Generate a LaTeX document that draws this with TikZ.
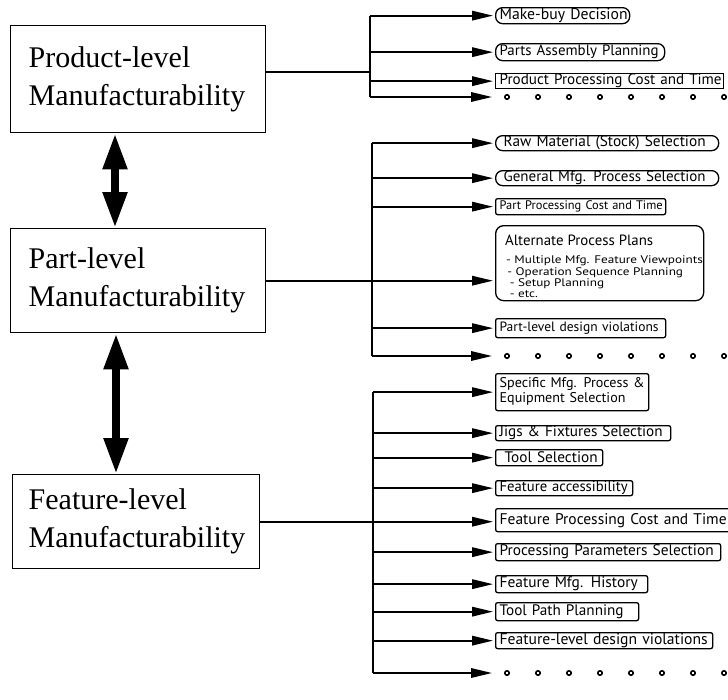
\documentclass[tikz,border=0pt]{standalone}
\usepackage{graphicx}
\usepackage{fontspec}
\setmainfont{Liberation Serif}
\newfontfamily\boxfont{PT Sans}
\usetikzlibrary{arrows.meta,calc}
\newcommand\fitw[2]{\resizebox{#1}{!}{#2}}
\begin{document}
\begin{tikzpicture}[x=1pt,y=-1pt,
  lvl/.style={draw, line width=1.4pt, rectangle, align=left, anchor=north west,
    font=\fontsize{30}{38}\selectfont, inner xsep=18pt, inner ysep=0pt},
  rbox/.style={draw, line width=1.3pt, anchor=north west, inner xsep=4pt, inner ysep=0pt,
    font=\boxfont\fontsize{13}{14}\selectfont, align=left},
  pill/.style={rounded corners=7pt},
  smr/.style={rounded corners=2pt},
  conn/.style={line width=1.8pt},
  arr/.style={conn, shorten >=2pt, -{Triangle[length=21pt,width=9.5pt]}},
  dbl/.style={line width=8pt, {Triangle[length=36pt,width=23pt]}-{Triangle[length=36pt,width=23pt]}},
  dot/.style={line width=1.6pt}
]
\useasboundingbox (0,0) rectangle (728,699);

% level boxes
\node[lvl, minimum width=255pt, minimum height=107pt, text width=219pt] (prod) at (10,25) {Product-level\\Manufacturability};
\node[lvl, minimum width=255pt, minimum height=104pt, text width=219pt] (part) at (10,228) {Part-level\\Manufacturability};
\node[lvl, minimum width=247pt, minimum height=94pt, inner xsep=16pt, text width=215pt] (feat) at (12,474) {Feature-level\\Manufacturability};

\coordinate (a1) at (115,0);
\coordinate (a2) at (116,0);
\draw[dbl] (prod.south -| a1) -- (part.north -| a1);
\draw[dbl] (part.south -| a2) -- (feat.north -| a2);

% product group
\node[rbox,pill,minimum height=16pt,text width=126pt] (mb) at (495,7) {\fitw{128pt}{Make-buy Decision}};
\node[rbox,pill,minimum height=17pt,text width=161pt] (pa) at (495,43) {\fitw{159pt}{Parts Assembly Planning}};
\node[rbox,minimum height=15pt,text width=220pt] (ppc) at (495,73) {\fitw{222pt}{Product Processing Cost and Time}};
\coordinate (d1) at (494,97);
\coordinate (pj) at (370,72);
\draw[conn] (prod.east |- pj) -- (pj);
\draw[conn] (pj |- mb.west) -- (pj |- d1);
\draw[arr] (pj |- mb.west) -- (mb.west);
\draw[arr] (pj |- pa.west) -- (pa.west);
\draw[arr] (pj |- ppc.west) -- (ppc.west);
\draw[arr] (pj |- d1) -- (d1);
\foreach \i in {0,...,7} \draw[dot] (507+31*\i,97) circle (2.2pt);

% part group
\node[rbox,pill,minimum height=15pt,text width=215pt] (rm) at (495,135) {\hspace*{4pt}\fitw{202pt}{Raw Material (Stock) Selection}};
\node[rbox,pill,minimum height=15pt,text width=215pt] (gm) at (495,170) {\hspace*{4pt}\fitw{202pt}{General Mfg. Process Selection}};
\node[rbox,smr,minimum height=16pt,text width=162pt] (ptc) at (495,198) {\fitw{163pt}{Part Processing Cost and Time}};
\begin{scope}
\clip (495,225) rectangle (728,299);
\node[anchor=north west, align=left, inner sep=0pt, font=\boxfont\fontsize{11}{11}\selectfont] (apb) at (506,256)
  {\scalebox{1.2}[1]{\begin{tabular}{@{}l@{}}- Multiple Mfg. Feature Viewpoints\\\hspace*{1pt}- Operation Sequence Planning\\\hspace*{3pt}- Setup Planning\\\hspace*{3pt}- etc.\end{tabular}}};
\end{scope}
\node[rbox,rounded corners=8pt,minimum width=208pt,minimum height=75pt] (ap) at (495,225) {};
\node[anchor=west, inner sep=0pt, font=\boxfont\fontsize{13}{14}\selectfont] (apt) at (505,240) {\fitw{148pt}{Alternate Process Plans}};
\node[rbox,smr,minimum height=19pt,text width=162pt] (pdv) at (495,318) {\fitw{159pt}{Part-level design violations}};
\coordinate (d2) at (494,356);
\coordinate (qx) at (372,0);
\draw[conn] (qx |- rm.west) -- (qx |- d2);
\draw[arr] (part.east) -- (ap.west |- part.east);
\draw[arr] (qx |- rm.west) -- (rm.west);
\draw[arr] (qx |- gm.west) -- (gm.west);
\draw[arr] (qx |- ptc.west) -- (ptc.west);
\draw[arr] (qx |- pdv.west) -- (pdv.west);
\draw[arr] (qx |- d2) -- (d2);
\foreach \i in {0,...,7} \draw[dot] (507+31*\i,356) circle (2.2pt);

% feature group
\node[rbox,smr,minimum height=37pt,text width=145pt] (sm) at (495,373) {\fitw{145pt}{\begin{tabular}{@{}l@{}}Specific Mfg. Process \&\\Equipment Selection\end{tabular}}};
\node[rbox,smr,minimum height=15pt,text width=167pt] (jf) at (495,425) {\fitw{163pt}{Jigs \& Fixtures Selection}};
\node[rbox,smr,minimum height=16pt,text width=99pt] (ts) at (495,449) {\hspace*{5pt}\fitw{93pt}{Tool Selection}};
\node[rbox,smr,minimum height=15pt,text width=129pt] (fa) at (495,480) {\fitw{128pt}{Feature accessibility}};
\node[rbox,smr,minimum height=23pt,text width=232pt] (fpc) at (495,508) {\fitw{227pt}{Feature Processing Cost and Time}};
\node[rbox,smr,minimum height=17pt,text width=217pt] (pps) at (495,543) {\fitw{214pt}{Processing Parameters Selection}};
\node[rbox,smr,minimum height=17pt,text width=144pt] (fmh) at (495,575) {\fitw{138pt}{Feature Mfg. History}};
\node[rbox,smr,minimum height=18pt,text width=135pt] (tpp) at (495,602) {\fitw{124pt}{Tool Path Planning}};
\node[rbox,smr,minimum height=16pt,text width=209pt] (fdv) at (495,632) {\fitw{208pt}{Feature-level design violations}};
\coordinate (d3) at (494,673);
\coordinate (fx) at (373,0);
\draw[conn] (fx |- sm.west) -- (fx |- d3);
\draw[arr] (feat.east) -- (fpc.west |- feat.east);
\foreach \n in {sm,jf,ts,fa,pps,fmh,tpp,fdv} \draw[arr] (fx |- \n.west) -- (\n.west);
\draw[arr] (fx |- d3) -- (d3);
\foreach \i in {0,...,7} \draw[dot] (507+31*\i,673) circle (2.2pt);
\end{tikzpicture}
\end{document}
